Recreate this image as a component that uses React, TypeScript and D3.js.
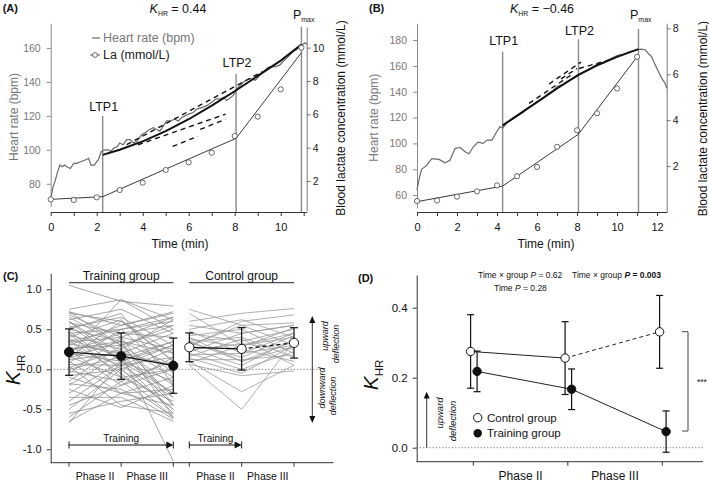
import React, { useEffect, useRef } from 'react';
import * as d3 from 'd3';

type Pt = [number, number];

const FONT = "'Liberation Sans', Arial, Helvetica, sans-serif";

// ---------- (A) K_HR = 0.44 ----------
const hrA: Pt[] = [
  [0, 71], [0.1, 78], [0.2, 82], [0.3, 87], [0.4, 91], [0.5, 90], [0.6, 91], [0.7, 90], [0.85, 89],
  [1.0, 92], [1.13, 92], [1.3, 93], [1.5, 94], [1.65, 95], [1.75, 91], [1.9, 91], [2.0, 93], [2.07, 94],
  [2.2, 99], [2.35, 100], [2.5, 100], [2.6, 99], [2.75, 101], [2.9, 102], [3.0, 104], [3.15, 103],
  [3.3, 106], [3.45, 106], [3.6, 104], [3.75, 105], [3.96, 109], [4.1, 110], [4.3, 112], [4.46, 113],
  [4.6, 112], [4.75, 111], [5.04, 117], [5.2, 117], [5.4, 118], [5.55, 117], [5.7, 119], [5.99, 121],
  [6.2, 122], [6.35, 124], [6.6, 125], [6.78, 126], [7.0, 128], [7.2, 130], [7.4, 130], [7.5, 131],
  [7.65, 129], [7.94, 132], [8.1, 136], [8.25, 138], [8.38, 140], [8.5, 141], [8.67, 142], [8.9, 141],
  [9.1, 144], [9.25, 146], [9.4, 148], [9.54, 149], [9.8, 149], [9.97, 150], [10.1, 152], [10.26, 154],
  [10.4, 156], [10.55, 158], [10.7, 159], [10.84, 161], [10.95, 162], [11.06, 163], [11.13, 162],
];
const hrFitA: Pt[] = [
  [2.26, 97], [3, 100], [4, 105], [5, 111], [6, 118], [7, 126], [8, 134.5], [9, 143.5], [10, 152.5], [10.9, 162],
];
const dashA: Pt[][] = [
  [[3.3, 103], [9.2, 146]],
  [[3.8, 103], [7.6, 121]],
  [[5.3, 102], [6.4, 108]],
  [[6.5, 112], [7.6, 118]],
];
const laA: Pt[] = [
  [0, 0.9], [1, 0.86], [2, 1.02], [3, 1.46], [4, 1.9], [5, 2.66], [6, 3.12], [7, 3.7], [8, 4.7],
  [9, 5.86], [10, 7.5], [10.9, 10],
];
const laFitA: Pt[] = [[0, 0.9], [2.26, 1.06], [8.06, 4.56], [10.9, 9.7]];
const markersA = [2.26, 8.06, 10.9];

// ---------- (B) K_HR = -0.46 ----------
const hrB: Pt[] = [
  [0, 64], [0.1, 72], [0.23, 80], [0.48, 83], [0.73, 88], [0.9, 88], [1.1, 87.6], [1.4, 85], [1.65, 87],
  [1.9, 96], [2.15, 97], [2.4, 93.5], [2.6, 92], [2.8, 97], [3.05, 101], [3.3, 100], [3.5, 102.6],
  [3.75, 102.6], [3.98, 109], [4.15, 113], [4.28, 112], [4.5, 116], [4.8, 119], [5.0, 121], [5.3, 124],
  [5.5, 127], [5.8, 130], [6.0, 132], [6.3, 135], [6.5, 138], [6.8, 141], [7.0, 144], [7.3, 146],
  [7.5, 148], [7.8, 150], [8.0, 152], [8.3, 155], [8.6, 157], [9.0, 161], [9.3, 162], [9.6, 165],
  [10.0, 168], [10.3, 169], [10.6, 171], [11.0, 172.5], [11.2, 173], [11.4, 172.5], [11.6, 169],
  [11.73, 167], [11.9, 161], [12.07, 155.5], [12.25, 150], [12.4, 146.5], [12.48, 142.6],
];
const hrFitB: Pt[] = [
  [4.28, 114], [5, 121.5], [6, 132], [7, 142.5], [8, 152.5], [9, 160.5], [10, 167], [11.07, 173],
];
const dashB: Pt[][] = [
  [[5.6, 131], [7.8, 154]],
  [[6.6, 146], [8.2, 163]],
  [[8.1, 158], [9.7, 165]],
  [[7.2, 150], [8.0, 158]],
];
const laB: Pt[] = [
  [0, 0.48], [1, 0.5], [2, 0.67], [3, 0.9], [4, 1.16], [5, 1.56], [6, 1.96], [7, 2.84], [8, 3.56],
  [9, 4.3], [10, 5.38], [11, 6.76],
];
const laFitB: Pt[] = [[0, 0.45], [4.28, 1.13], [8.07, 3.39], [11.07, 6.84]];
const markersB = [4.28, 8.07, 11.07];

const markerNames = ['LTP1', 'LTP2'];

// ---------- (C) individual K_HR ----------
const timepoints = ['pre', 'mid', 'post'];
const phaseLabels = ['Phase II', 'Phase III'];
const trainingK: number[][] = [
  [1.05, 0.85, 0.79], [0.75, 0.87, 0.62], [0.72, 0.55, 0.7], [0.7, 0.6, 0.2], [0.68, 0.4, 0.65],
  [0.65, 0.3, -0.1], [0.62, 0.75, 0.45], [0.6, 0.2, -0.45], [0.58, 0.45, 0.55], [0.55, 0.1, -0.3],
  [0.52, 0.65, 0.3], [0.5, 0.35, 0.05], [0.48, 0.0, -0.5], [0.45, 0.5, 0.6], [0.43, 0.25, -0.2],
  [0.4, 0.62, 0.1], [0.38, 0.15, 0.35], [0.36, -0.05, -0.6], [0.34, 0.4, 0.25], [0.32, 0.2, -1.15],
  [0.3, 0.55, 0.72], [0.28, 0.05, 0.15], [0.26, 0.3, -0.35], [0.24, -0.2, 0.0], [0.22, 0.45, 0.4],
  [0.2, 0.1, -0.15], [0.18, 0.87, 0.5], [0.16, -0.1, -0.4], [0.14, 0.35, 0.2], [0.12, 0.2, 0.45],
  [0.1, -0.3, -0.25], [0.08, 0.5, -0.05], [0.06, 0.05, 0.3], [0.04, -0.45, -0.55], [0.02, 0.25, 0.62],
  [0.0, 0.15, -0.3], [-0.02, -0.15, 0.1], [-0.05, 0.4, -0.45], [-0.08, 0.0, 0.25], [-0.1, -0.3, -0.1],
  [-0.15, 0.3, 0.55], [-0.18, -0.25, -0.62], [-0.2, 0.2, 0.05], [-0.25, -0.48, -0.2], [-0.3, 0.1, 0.35],
  [-0.35, -0.35, -0.65], [-0.4, 0.05, -0.35], [-0.45, -0.2, 0.15], [-0.5, 0.0, -0.5], [-0.55, -0.4, -0.3],
  [-0.6, -0.15, -0.6], [-0.65, -0.3, -0.45], [-0.67, 0.1, -0.55], [0.72, 0.3, 0.5], [0.5, 0.7, -0.2],
  [0.35, 0.5, 0.65], [0.15, 0.6, 0.1], [0.45, -0.1, 0.0], [0.25, 0.35, -0.6], [0.6, 0.1, 0.3],
];
const controlK: number[][] = [
  [0.75, 0.55, 0.58], [0.7, 0.3, 0.45], [0.6, 0.7, 0.76], [0.55, 0.45, 0.55], [0.5, 0.62, 0.4],
  [0.48, 0.2, 0.3], [0.45, 0.35, 0.5], [0.42, 0.5, 0.2], [0.4, 0.1, 0.35], [0.38, 0.28, 0.52],
  [0.35, 0.4, 0.15], [0.33, 0.15, 0.42], [0.3, 0.55, 0.3], [0.28, 0.25, 0.1], [0.26, 0.05, 0.38],
  [0.24, 0.32, 0.25], [0.22, 0.45, 0.55], [0.2, 0.0, 0.22], [0.18, 0.2, 0.45], [0.16, 0.38, 0.05],
  [0.14, -0.05, 0.3], [0.12, 0.12, 0.18], [0.1, -0.28, 0.05], [0.08, 0.3, 0.4], [0.05, -0.5, 0.35],
  [0.06, -0.08, -0.02], [0.28, 0.6, 0.68], [0.35, 0.1, 0.28],
];
const trainingMeanC = [0.215, 0.165, 0.045];
const trainingSdC = [0.29, 0.29, 0.345];
const controlMeanC = [0.275, 0.255, 0.33];
const controlSdC = [0.18, 0.265, 0.19];

// ---------- (D) group means ----------
const controlMeanD = [0.275, 0.256, 0.331];
const controlSemD = [0.105, 0.104, 0.104];
const trainingMeanD = [0.218, 0.167, 0.046];
const trainingSemD = [0.058, 0.058, 0.059];

type Sel = d3.Selection<any, unknown, null, undefined>;

function styleAxis(g: Sel, stroke: string, fill: string, size: number) {
  g.attr('font-family', FONT).attr('font-size', size);
  g.selectAll('path, line').attr('stroke', stroke);
  g.selectAll('text').attr('fill', fill);
}

function text(g: Sel, x: number, y: number, s: string, size = 12, fill = '#111', anchor = 'start') {
  return g.append('text').attr('x', x).attr('y', y).attr('font-family', FONT)
    .attr('font-size', size).attr('fill', fill).attr('text-anchor', anchor).text(s);
}

function kLabel(g: Sel, x: number, y: number, rest: string, size: number, anchor = 'middle') {
  const t = g.append('text').attr('x', x).attr('y', y).attr('font-family', FONT)
    .attr('font-size', size).attr('fill', '#111').attr('text-anchor', anchor);
  t.append('tspan').attr('font-style', 'italic').text('K');
  t.append('tspan').attr('font-size', size * 0.55).attr('dy', size * 0.25).text('HR');
  if (rest) t.append('tspan').attr('dy', -size * 0.25).text(rest);
  return t;
}

interface ProfileOpts {
  letter: string;
  title: string;
  titleX: number;
  x: d3.ScaleLinear<number, number>;
  hr: d3.ScaleLinear<number, number>;
  la: d3.ScaleLinear<number, number>;
  hrTicks: number[];
  laTicks: number[];
  axisY: number;
  hrData: Pt[];
  hrFit: Pt[];
  dashes: Pt[][];
  laData: Pt[];
  laFit: Pt[];
  markers: number[];
  markerTops: number[];
  labelYs: number[];
  hrLabelX: number;
  laLabelX: number;
  timeLabelX: number;
  legend: boolean;
}

function drawProfile(svg: Sel, o: ProfileOpts) {
  const g = svg.append('g');
  const [x0, x1] = o.x.range();

  text(g, x0 - 48, 12, o.letter, 11, '#111').attr('font-weight', 'bold');
  kLabel(g, o.titleX, 13, ' = ' + o.title, 12.5);

  // threshold lines
  o.markers.forEach((m, i) => {
    g.append('line').attr('x1', o.x(m)).attr('x2', o.x(m)).attr('y1', o.markerTops[i]).attr('y2', o.axisY)
      .attr('stroke', '#8a8a8a').attr('stroke-width', 1.4);
    if (i < 2) {
      text(g, o.x(m) + 1, o.labelYs[i], markerNames[i], 12.5, '#111', 'middle');
    } else {
      const t = g.append('text').attr('x', o.x(m) - 8.5).attr('y', o.labelYs[i]).attr('font-family', FONT)
        .attr('font-size', 12.5).attr('fill', '#111');
      t.append('tspan').text('P');
      t.append('tspan').attr('font-size', 7).attr('dy', 3).text('max');
    }
  });

  // axes
  const axL = g.append('g').attr('transform', `translate(${x0},0)`)
    .call(d3.axisLeft(o.hr).tickValues(o.hrTicks).tickSize(4).tickSizeOuter(0).tickPadding(6) as any);
  styleAxis(axL, '#8a8a8a', '#777', 10.5);

  const axR = g.append('g').attr('transform', `translate(${x1},0)`)
    .call(d3.axisRight(o.la).tickValues(o.laTicks).tickSize(4).tickSizeOuter(0).tickPadding(2) as any);
  styleAxis(axR, '#777', '#222', 10.5);

  const tMax = o.x.domain()[1];
  const axB = g.append('g').attr('transform', `translate(0,${o.axisY})`)
    .call(d3.axisBottom(o.x).tickValues(d3.range(0, Math.floor(tMax) + 1))
      .tickFormat((d: any) => (d % 2 === 0 ? String(d) : '')).tickSize(4).tickSizeOuter(0).tickPadding(7) as any);
  styleAxis(axB, '#333', '#111', 11);

  // axis titles
  const midY = (o.hr.range()[0] + o.hr.range()[1]) / 2;
  text(g, 0, 0, 'Heart rate (bpm)', 12, '#777', 'middle')
    .attr('transform', `translate(${o.hrLabelX},${midY + 2}) rotate(-90)`);
  text(g, 0, 0, 'Blood lactate concentration (mmol/L)', 12, '#111', 'middle')
    .attr('transform', `translate(${o.laLabelX},${midY + 3}) rotate(-90)`);
  text(g, o.timeLabelX, 248, 'Time (min)', 12, '#111', 'middle');

  const hrLine = d3.line<Pt>().x(d => o.x(d[0])).y(d => o.hr(d[1]));
  const laLine = d3.line<Pt>().x(d => o.x(d[0])).y(d => o.la(d[1]));

  g.append('path').attr('d', hrLine(o.hrData)).attr('fill', 'none').attr('stroke', '#6a6a6a').attr('stroke-width', 1.2);
  o.dashes.forEach(seg => {
    g.append('path').attr('d', hrLine(seg)).attr('fill', 'none').attr('stroke', '#111')
      .attr('stroke-width', 1.4).attr('stroke-dasharray', '5,4');
  });
  g.append('path').attr('d', hrLine(o.hrFit)).attr('fill', 'none').attr('stroke', '#111').attr('stroke-width', 2);

  g.append('path').attr('d', laLine(o.laFit)).attr('fill', 'none').attr('stroke', '#222').attr('stroke-width', 0.9);
  g.selectAll('circle.la').data(o.laData).enter().append('circle')
    .attr('cx', d => o.x(d[0])).attr('cy', d => o.la(d[1])).attr('r', 2.6)
    .attr('fill', 'white').attr('stroke', '#444').attr('stroke-width', 0.8);

  if (o.legend) {
    g.append('line').attr('x1', 92).attr('x2', 100).attr('y1', 38).attr('y2', 38).attr('stroke', '#6a6a6a').attr('stroke-width', 1.2);
    text(g, 103, 42, 'Heart rate (bpm)', 12.5, '#777');
    g.append('line').attr('x1', 90).attr('x2', 100).attr('y1', 55).attr('y2', 55).attr('stroke', '#444').attr('stroke-width', 0.9);
    g.append('circle').attr('cx', 95).attr('cy', 55).attr('r', 2.4).attr('fill', 'white').attr('stroke', '#444').attr('stroke-width', 0.8);
    text(g, 103, 59, 'La (mmol/L)', 12.5, '#222');
  }
}

function errorPoint(g: Sel, x: number, y: d3.ScaleLinear<number, number>, m: number, e: number, filled: boolean, r: number, cap: number) {
  g.append('line').attr('x1', x).attr('x2', x).attr('y1', y(m + e)).attr('y2', y(m - e)).attr('stroke', '#111').attr('stroke-width', 1.2);
  [m + e, m - e].forEach(v => {
    g.append('line').attr('x1', x - cap).attr('x2', x + cap).attr('y1', y(v)).attr('y2', y(v)).attr('stroke', '#111').attr('stroke-width', 1.2);
  });
  g.append('circle').attr('cx', x).attr('cy', y(m)).attr('r', r)
    .attr('fill', filled ? '#111' : 'white').attr('stroke', '#111').attr('stroke-width', 1);
}

function trainingArrow(g: Sel, xa: number, xb: number, y: number) {
  g.append('line').attr('x1', xa).attr('x2', xb - 6).attr('y1', y).attr('y2', y).attr('stroke', '#111').attr('stroke-width', 1);
  g.append('line').attr('x1', xa).attr('x2', xa).attr('y1', y - 3.5).attr('y2', y + 3.5).attr('stroke', '#111');
  g.append('line').attr('x1', xb).attr('x2', xb).attr('y1', y - 3.5).attr('y2', y + 3.5).attr('stroke', '#111');
  g.append('path').attr('d', `M${xb},${y} L${xb - 7},${y - 3.5} L${xb - 7},${y + 3.5} Z`).attr('fill', '#111');
  text(g, (xa + xb) / 2, y - 3.5, 'Training', 10, '#111', 'middle');
}

function rotated(g: Sel, x: number, y: number, s: string, size = 9) {
  return text(g, 0, 0, s, size, '#111', 'middle').attr('font-style', 'italic').attr('dominant-baseline', 'central')
    .attr('transform', `translate(${x},${y}) rotate(-90)`);
}

function drawC(svg: Sel) {
  const g = svg.append('g');
  const left = 50.7, bottom = 462.7;
  const y = d3.scaleLinear().domain([-1.1675, 1.2]).range([bottom, 273.3]);
  const xT = d3.scalePoint<string>().domain(timepoints).range([69, 173.3]);
  const xC = d3.scalePoint<string>().domain(timepoints).range([189.3, 294]);

  text(g, 3, 280, '(C)', 11).attr('font-weight', 'bold');

  // zero line
  g.append('line').attr('x1', left).attr('x2', 325).attr('y1', y(0)).attr('y2', y(0))
    .attr('stroke', '#777').attr('stroke-dasharray', '1.2,2').attr('stroke-width', 1);

  const line = (sx: d3.ScalePoint<string>) =>
    d3.line<number>().x((_, i) => sx(timepoints[i]) as number).y(d => y(d));

  const gl = g.append('g');
  trainingK.forEach(r => gl.append('path').attr('d', line(xT)(r)).attr('fill', 'none').attr('stroke', '#8f8f8f').attr('stroke-width', 0.8));
  controlK.forEach(r => gl.append('path').attr('d', line(xC)(r)).attr('fill', 'none').attr('stroke', '#9a9a9a').attr('stroke-width', 0.8));

  // mean lines
  g.append('path').attr('d', line(xT)(trainingMeanC)).attr('fill', 'none').attr('stroke', '#111').attr('stroke-width', 1.3);
  g.append('path').attr('d', line(xC)(controlMeanC.slice(0, 2))).attr('fill', 'none').attr('stroke', '#111').attr('stroke-width', 1.3);
  g.append('line').attr('x1', xC(timepoints[1]) as number).attr('x2', xC(timepoints[2]) as number)
    .attr('y1', y(controlMeanC[1])).attr('y2', y(controlMeanC[2]))
    .attr('stroke', '#111').attr('stroke-width', 1.3).attr('stroke-dasharray', '4,3');
  timepoints.forEach((tp, i) => {
    errorPoint(g, xT(tp) as number, y, trainingMeanC[i], trainingSdC[i], true, 4.6, 4);
    errorPoint(g, xC(tp) as number, y, controlMeanC[i], controlSdC[i], false, 4.6, 4);
  });

  // axes
  const axL = g.append('g').attr('transform', `translate(${left},0)`)
    .call(d3.axisLeft(y).tickValues([-1, -0.5, 0, 0.5, 1]).tickFormat((d: any) => (+d).toFixed(1))
      .tickSize(4).tickSizeOuter(0).tickPadding(5) as any);
  styleAxis(axL, '#333', '#111', 11);
  g.append('line').attr('x1', left).attr('x2', 333.3).attr('y1', bottom).attr('y2', bottom).attr('stroke', '#333');
  [xT, xC].forEach(sx => {
    timepoints.forEach(tp => {
      g.append('line').attr('x1', sx(tp) as number).attr('x2', sx(tp) as number).attr('y1', bottom).attr('y2', bottom + 4).attr('stroke', '#333');
    });
    phaseLabels.forEach((lab, i) => {
      const xm = ((sx(timepoints[i]) as number) + (sx(timepoints[i + 1]) as number)) / 2;
      text(g, xm, 480, lab, 10.5, '#111', 'middle');
    });
  });
  kLabel(g, 0, 0, '', 21).attr('transform', `translate(20,370) rotate(-90)`);

  // group headers
  [[xT, 'Training group'], [xC, 'Control group']].forEach(([sx, lab]: any) => {
    const a = sx(timepoints[0]), b = sx(timepoints[2]);
    g.append('line').attr('x1', a).attr('x2', b).attr('y1', 282.7).attr('y2', 282.7).attr('stroke', '#222');
    text(g, (a + b) / 2, 280, lab, 12, '#111', 'middle');
  });

  trainingArrow(g, xT(timepoints[0]) as number, xT(timepoints[2]) as number, 445);
  trainingArrow(g, xC(timepoints[0]) as number, xC(timepoints[1]) as number, 445);

  // deflection double arrow
  const ax = 312.3;
  g.append('line').attr('x1', ax).attr('x2', ax).attr('y1', 320).attr('y2', 419).attr('stroke', '#333').attr('stroke-width', 1);
  g.append('path').attr('d', `M${ax},316 L${ax - 3},323 L${ax + 3},323 Z`).attr('fill', '#111');
  g.append('path').attr('d', `M${ax},423 L${ax - 3},416 L${ax + 3},416 Z`).attr('fill', '#111');
  rotated(g, 325, 336, 'upward');
  rotated(g, 336, 344, 'deflection');
  rotated(g, 322, 388, 'downward');
  rotated(g, 333, 396, 'deflection');
}

function drawD(svg: Sel) {
  const g = svg.append('g');
  const left = 416.7, bottom = 461.7;
  const y = d3.scaleLinear().domain([-0.04, 0.4934]).range([bottom, 275]);
  const x = d3.scalePoint<string>().domain(timepoints).range([473.3, 662.3]);

  text(g, 358, 282, '(D)', 11).attr('font-weight', 'bold');

  g.append('line').attr('x1', left).attr('x2', 703).attr('y1', y(0)).attr('y2', y(0))
    .attr('stroke', '#777').attr('stroke-dasharray', '1.2,2');

  const lineAt = (off: number) => d3.line<number>().x((_, i) => (x(timepoints[i]) as number) + off).y(d => y(d));
  g.append('path').attr('d', lineAt(-2.7)(controlMeanD.slice(0, 2))).attr('fill', 'none').attr('stroke', '#222').attr('stroke-width', 1);
  g.append('line').attr('x1', (x(timepoints[1]) as number) - 2.7).attr('x2', (x(timepoints[2]) as number) - 2.7)
    .attr('y1', y(controlMeanD[1])).attr('y2', y(controlMeanD[2]))
    .attr('stroke', '#222').attr('stroke-width', 1).attr('stroke-dasharray', '4,3');
  g.append('path').attr('d', lineAt(3.8)(trainingMeanD)).attr('fill', 'none').attr('stroke', '#222').attr('stroke-width', 1);

  timepoints.forEach((tp, i) => {
    errorPoint(g, (x(tp) as number) - 2.7, y, controlMeanD[i], controlSemD[i], false, 4.2, 3.5);
    errorPoint(g, (x(tp) as number) + 3.8, y, trainingMeanD[i], trainingSemD[i], true, 4.2, 3.5);
  });

  const axL = g.append('g').attr('transform', `translate(${left},0)`)
    .call(d3.axisLeft(y).tickValues([0, 0.2, 0.4]).tickFormat((d: any) => (+d).toFixed(1))
      .tickSize(4).tickSizeOuter(0).tickPadding(5) as any);
  styleAxis(axL, '#333', '#111', 11.5);
  g.append('line').attr('x1', left).attr('x2', 703).attr('y1', bottom).attr('y2', bottom).attr('stroke', '#333');
  timepoints.forEach(tp => {
    g.append('line').attr('x1', x(tp) as number).attr('x2', x(tp) as number).attr('y1', bottom).attr('y2', bottom + 4).attr('stroke', '#333');
  });
  phaseLabels.forEach((lab, i) => {
    const xm = ((x(timepoints[i]) as number) + (x(timepoints[i + 1]) as number)) / 2;
    text(g, xm, 480, lab, 12, '#111', 'middle');
  });
  kLabel(g, 0, 0, '', 21).attr('transform', `translate(378,375) rotate(-90)`);

  // statistics
  const st = (x0: number, yy: number, pre: string, p: string, bold: boolean) => {
    const t = g.append('text').attr('x', x0).attr('y', yy).attr('font-family', FONT).attr('font-size', 8.5).attr('fill', '#111');
    t.append('tspan').text(pre);
    const b = t.append('tspan').attr('font-weight', bold ? 'bold' : 'normal');
    b.append('tspan').attr('font-style', 'italic').text('P');
    b.append('tspan').text(' = ' + p);
  };
  st(478, 277.5, 'Time × group ', '0.62', false);
  st(572, 277.5, 'Time × group ', '0.003', true);
  st(494, 291, 'Time ', '0.28', false);

  // significance bracket
  g.append('path').attr('d', 'M682,331.7 H688 V431 H682').attr('fill', 'none').attr('stroke', '#444').attr('stroke-width', 1);
  text(g, 697, 385, '***', 8.5, '#111');

  // legend
  g.append('circle').attr('cx', 477.7).attr('cy', 417.7).attr('r', 4.2).attr('fill', 'white').attr('stroke', '#111');
  text(g, 487, 421.8, 'Control group', 11.5, '#111');
  g.append('circle').attr('cx', 477.7).attr('cy', 433.3).attr('r', 4.2).attr('fill', '#111');
  text(g, 487, 437.4, 'Training group', 11.5, '#111');

  // upward arrow
  const ax = 426.7;
  g.append('line').attr('x1', ax).attr('x2', ax).attr('y1', y(0)).attr('y2', 396).attr('stroke', '#333');
  g.append('path').attr('d', `M${ax},391.7 L${ax - 3},398.5 L${ax + 3},398.5 Z`).attr('fill', '#111');
  rotated(g, 439, 413, 'upward', 9.5);
  rotated(g, 452, 421, 'deflection', 9.5);
}

export default function App() {
  const ref = useRef<SVGSVGElement>(null);

  useEffect(() => {
    if (!ref.current) return;
    const svg = d3.select(ref.current) as unknown as Sel;
    svg.selectAll('*').remove();

    drawProfile(svg, {
      letter: '(A)', title: '0.44', titleX: 178,
      x: d3.scaleLinear().domain([0, 11.13]).range([50.7, 306.7]),
      hr: d3.scaleLinear().domain([66.5, 174.5]).range([206.7, 23.3]),
      la: d3.scaleLinear().domain([0.2, 11.24]).range([211, 27]),
      hrTicks: [80, 100, 120, 140, 160], laTicks: [2, 4, 6, 8, 10], axisY: 212,
      hrData: hrA, hrFit: hrFitA, dashes: dashA, laData: laA, laFit: laFitA,
      markers: markersA, markerTops: [116, 74, 26.7], labelYs: [110.5, 66.5, 19],
      hrLabelX: 18, laLabelX: 345, timeLabelX: 180, legend: true,
    });
    drawProfile(svg, {
      letter: '(B)', title: '\u22120.46', titleX: 542,
      x: d3.scaleLinear().domain([0, 12.48]).range([417, 666.7]),
      hr: d3.scaleLinear().domain([50, 193]).range([208, 23.3]),
      la: d3.scaleLinear().domain([0, 8.22]).range([212, 23.3]),
      hrTicks: [60, 80, 100, 120, 140, 160, 180], laTicks: [2, 4, 6, 8], axisY: 212,
      hrData: hrB, hrFit: hrFitB, dashes: dashB, laData: laB, laFit: laFitB,
      markers: markersB, markerTops: [51.7, 39.3, 29], labelYs: [45, 35, 19],
      hrLabelX: 378, laLabelX: 707, timeLabelX: 546, legend: false,
    });
    drawC(svg);
    drawD(svg);
  }, []);

  return (
    <svg ref={ref} width={709} height={482} viewBox="0 0 709 482"
      style={{ position: 'absolute', left: 0, top: 0, background: 'white' }} />
  );
}
